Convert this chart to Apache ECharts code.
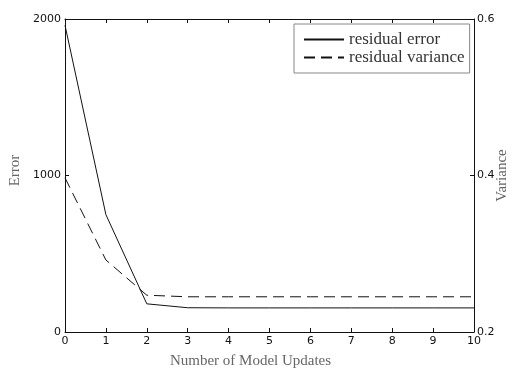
<!DOCTYPE html>
<html>
<head>
<meta charset="utf-8">
<script src="https://cdn.jsdelivr.net/npm/echarts@6/dist/echarts.min.js"></script>
<style>
  html, body { margin: 0; padding: 0; background: #fff; }
  #chart { width: 516px; height: 370px; }
</style>
</head>
<body>
<div id="chart"></div>
<script>
// values
const updates = [0, 1, 2, 3, 4, 5, 6, 7, 8, 9, 10]
const residualError = [1960, 750, 180, 155, 154, 154, 154, 154, 154, 154, 154]
const residualVariance = [0.397, 0.292, 0.247, 0.245, 0.245, 0.245, 0.245, 0.245, 0.245, 0.245, 0.245]

const serif = '"Liberation Serif", "DejaVu Serif", serif'
const sans = '"DejaVu Sans", "Liberation Sans", sans-serif'

const chart = echarts.init(document.getElementById('chart'))

const tickLabel = { color: '#111', fontFamily: sans, fontSize: 11 }
const axisLine = { show: true, onZero: false, lineStyle: { color: '#111', width: 1 } }
const axisTick = { inside: true, length: 4, lineStyle: { color: '#111' } }

const option = {
  animation: false,
  grid: { left: 65, right: 42, top: 19, bottom: 38, containLabel: false, outerBoundsMode: 'none' },
  legend: {
    left: 294,
    top: 24,
    orient: 'vertical',
    itemWidth: 40,
    itemHeight: 10,
    itemGap: 1,
    padding: [7, 5, 7, 9],
    borderColor: '#888',
    borderWidth: 1,
    borderRadius: 0,
    backgroundColor: '#fff',
    itemStyle: { opacity: 0 }, // line only, no marker
    textStyle: { fontFamily: serif, fontSize: 17, color: '#333' },
    data: ['residual error', 'residual variance']
  },
  xAxis: [
    {
      type: 'value',
      min: 0,
      max: 10,
      interval: 1,
      name: 'Number of Model Updates',
      nameLocation: 'middle',
      nameGap: 22,
      nameTextStyle: { fontFamily: serif, fontSize: 15, color: '#666', padding: [0, 38, 0, 0] },
      axisLine: axisLine,
      axisTick: axisTick,
      axisLabel: Object.assign({ margin: 4 }, tickLabel),
      splitLine: { show: false }
    },
    {
      // top frame with ticks
      type: 'value',
      position: 'top',
      min: 0,
      max: 10,
      interval: 1,
      axisLine: axisLine,
      axisTick: axisTick,
      axisLabel: { show: false },
      splitLine: { show: false }
    }
  ],
  yAxis: [
    {
      type: 'value',
      min: 0,
      max: 2000,
      interval: 1000,
      name: 'Error',
      nameLocation: 'middle',
      nameGap: 40,
      nameTextStyle: { fontFamily: serif, fontSize: 15, color: '#666', padding: [0, 0, 0, 10] },
      axisLine: axisLine,
      axisTick: axisTick,
      axisLabel: Object.assign({ margin: 4, formatter: (v) => String(v) }, tickLabel),
      splitLine: { show: false }
    },
    {
      type: 'value',
      position: 'right',
      min: 0.2,
      max: 0.6,
      interval: 0.2,
      name: 'Variance',
      nameLocation: 'middle',
      nameGap: 21,
      nameRotate: 90,
      nameMoveOverlap: false,
      nameTextStyle: { fontFamily: serif, fontSize: 15, color: '#666' },
      axisLine: axisLine,
      axisTick: axisTick,
      axisLabel: Object.assign({ margin: 3, formatter: (v) => v.toFixed(1) }, tickLabel),
      splitLine: { show: false }
    }
  ],
  series: [
    {
      name: 'residual error',
      type: 'line',
      data: updates.map((x, i) => [x, residualError[i]]),
      showSymbol: false,
      symbol: 'none',
      lineStyle: { color: '#111', width: 1, type: 'solid' },
      itemStyle: { color: '#111' }
    },
    {
      name: 'residual variance',
      type: 'line',
      yAxisIndex: 1,
      data: updates.map((x, i) => [x, residualVariance[i]]),
      showSymbol: false,
      symbol: 'none',
      lineStyle: { color: '#111', width: 1, type: [11, 6] },
      itemStyle: { color: '#111' }
    }
  ]
}

chart.setOption(option)
</script>
</body>
</html>
